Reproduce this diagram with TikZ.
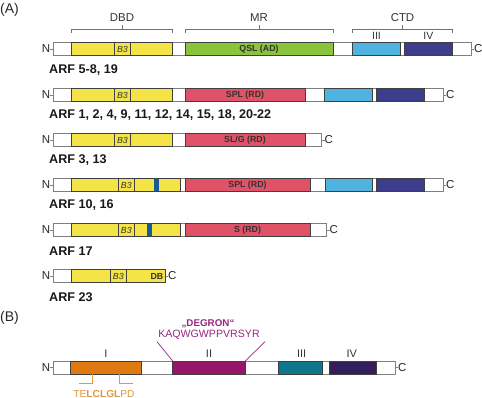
\documentclass[tikz,border=0pt]{standalone}
\usepackage{fontspec}
\setmainfont{Liberation Sans}
\usetikzlibrary{positioning}

\definecolor{dbdyellow}{RGB}{244,228,72}
\definecolor{adgreen}{RGB}{138,196,58}
\definecolor{rdred}{RGB}{224,82,104}
\definecolor{ctdlight}{RGB}{80,178,222}
\definecolor{ctddark}{RGB}{62,60,140}
\definecolor{markblue}{RGB}{24,90,150}
\definecolor{domorange}{RGB}{222,122,16}
\definecolor{dompurple}{RGB}{150,22,108}
\definecolor{domteal}{RGB}{14,118,140}
\definecolor{domviolet}{RGB}{50,30,88}
\definecolor{degrontext}{RGB}{150,40,125}
\definecolor{motiftext}{RGB}{228,150,60}

% outer white bar with N- and -C ends
\newcommand{\arfbar}[3]{% name, y centre, x end
  \draw[bar] (53,#2-6.7) rectangle (#3,#2+6.7);
  \node[term,anchor=east] (#1n) at (50.3,#2) {N};
  \node[term,anchor=west] (#1c) at (#3+2.8,#2) {C};
  \draw[bar] (#1n.east) -- (53,#2);
  \draw[bar] (#3,#2) -- (#1c.west);
}
% one coloured domain
\newcommand{\dom}[4]{% colour, x start, x end, y centre
  \draw[domline,fill=#1] (#2,#4-6.7) rectangle (#3,#4+6.7);
}

\begin{document}
\begin{tikzpicture}[x=1pt,y=-1pt,
    bar/.style={draw=black!50,fill=white,line width=0.8pt},
    domline/.style={draw=black!75,line width=0.65pt},
    brace/.style={draw=black!55,line width=0.8pt},
    term/.style={inner sep=0pt,font=\fontsize{11.5}{13}\selectfont,text=black!85},
    panel/.style={inner sep=0pt,anchor=base west,font=\fontsize{14}{16}\selectfont,text=black!85},
    arfname/.style={inner sep=0pt,anchor=base west,font=\fontsize{12.6}{14}\selectfont\bfseries,text=black!90},
    headtext/.style={inner sep=0pt,anchor=base,font=\fontsize{11.4}{13}\selectfont,text=black!80},
    subtext/.style={inner sep=0pt,anchor=base,font=\fontsize{10.5}{12}\selectfont,text=black!80},
    domtext/.style={inner sep=0pt,font=\fontsize{8.8}{10}\selectfont\bfseries,text=black!80},
    btext/.style={inner sep=0pt,font=\fontsize{8.8}{10}\selectfont\itshape,text=black!80}]
  \useasboundingbox (0,0) rectangle (482,398);

  % panel A
  \node[panel] (pa) at (0,13.5) {(A)};

  % brackets over the first bar
  \draw[brace] (71.5,33) -- (71.5,29.3) -- (172.5,29.3) -- (172.5,33);
  \draw[brace] (122,29.3) -- (122,25);
  \node[headtext] (dbd) at (122,21.7) {DBD};
  \draw[brace] (185,33) -- (185,29.3) -- (333.3,29.3) -- (333.3,33);
  \draw[brace] (259,29.3) -- (259,25);
  \node[headtext] (mr) at (259,21.7) {MR};
  \draw[brace] (352.7,33) -- (352.7,29.3) -- (452.3,29.3) -- (452.3,33);
  \draw[brace] (402.5,29.3) -- (402.5,25);
  \node[headtext] (ctd) at (402.5,21.7) {CTD};
  \node[subtext] (ctdiii) at (376.5,39.3) {III};
  \node[subtext] (ctdiv) at (428.3,39.3) {IV};

  % ARF 5-8, 19
  \arfbar{ra}{49}{471}
  \dom{dbdyellow}{71.5}{172.5}{49}
  \draw[domline] (114.5,42.3) rectangle (130.5,55.7);
  \node[btext] (rab) at (122.5,49) {B3};
  \dom{adgreen}{185}{333.3}{49}
  \node[domtext] (rad) at (259,49) {QSL (AD)};
  \dom{ctdlight}{352.7}{400.7}{49}
  \dom{ctddark}{404}{452.3}{49}
  \node[arfname] (ralab) at (49,74) {ARF 5-8, 19};

  % ARF 1, 2, 4, ...
  \arfbar{rb}{95}{443}
  \dom{dbdyellow}{71.5}{172.5}{95}
  \draw[domline] (114.5,88.3) rectangle (130.5,101.7);
  \node[btext] (rbb) at (122.5,95) {B3};
  \dom{rdred}{185}{305.3}{95}
  \node[domtext] (rbd) at (245,95) {SPL (RD)};
  \dom{ctdlight}{324.7}{372.7}{95}
  \dom{ctddark}{376.3}{424}{95}
  \node[arfname] (rblab) at (49,119) {ARF 1, 2, 4, 9, 11, 12, 14, 15, 18, 20-22};

  % ARF 3, 13
  \arfbar{rc}{140}{321.7}
  \dom{dbdyellow}{71.5}{172.5}{140}
  \draw[domline] (114.5,133.3) rectangle (130.5,146.7);
  \node[btext] (rcb) at (122.5,140) {B3};
  \dom{rdred}{185}{305.3}{140}
  \node[domtext] (rcd) at (245,140) {SL/G (RD)};
  \node[arfname] (rclab) at (49,164) {ARF 3, 13};

  % ARF 10, 16
  \arfbar{rd}{185}{443}
  \dom{dbdyellow}{71.5}{180}{185}
  \draw[domline] (118.3,178.3) rectangle (134.3,191.7);
  \node[btext] (rdb) at (126.3,185) {B3};
  \fill[markblue] (154,178.6) rectangle (159,191.4);
  \dom{rdred}{185}{310}{185}
  \node[domtext] (rdd) at (247.5,185) {SPL (RD)};
  \dom{ctdlight}{325}{372}{185}
  \dom{ctddark}{376}{424}{185}
  \node[arfname] (rdlab) at (49,209) {ARF 10, 16};

  % ARF 17
  \arfbar{re}{230}{326.7}
  \dom{dbdyellow}{71.5}{180}{230}
  \draw[domline] (118.3,223.3) rectangle (134.3,236.7);
  \node[btext] (reb) at (126.3,230) {B3};
  \fill[markblue] (146.7,223.6) rectangle (151.7,236.4);
  \dom{rdred}{185}{310}{230}
  \node[domtext] (red) at (247.5,230) {S (RD)};
  \node[arfname] (relab) at (49,255.5) {ARF 17};

  % ARF 23
  \arfbar{rf}{276}{165}
  \dom{dbdyellow}{71}{165}{276}
  \draw[domline] (110.7,269.3) rectangle (126,282.7);
  \node[btext] (rfb) at (118.3,276) {B3};
  \node[domtext,anchor=east] (rfd) at (163.5,276) {DB};
  \node[arfname] (rflab) at (49,301) {ARF 23};

  % panel B
  \node[panel] (pb) at (0,321) {(B)};
  \arfbar{rg}{367.7}{395}
  \dom{domorange}{70.7}{141.7}{367.7}
  \dom{dompurple}{172.7}{245.3}{367.7}
  \dom{domteal}{278.7}{322}{367.7}
  \dom{domviolet}{329.3}{376.3}{367.7}
  \node[headtext,font=\fontsize{11}{13}\selectfont] (gi) at (106,357.5) {I};
  \node[headtext,font=\fontsize{11}{13}\selectfont] (gii) at (209,357.5) {II};
  \node[headtext,font=\fontsize{11}{13}\selectfont] (giii) at (301.7,357.5) {III};
  \node[headtext,font=\fontsize{11}{13}\selectfont] (giv) at (351.7,357.5) {IV};

  % degron
  \node[inner sep=0pt,anchor=base,text=degrontext,font=\fontsize{9.8}{11}\selectfont\bfseries] (degron) at (208,326) {„DEGRON“};
  \node[inner sep=0pt,anchor=base,text=degrontext,font=\fontsize{10.6}{12}\selectfont] (degseq) at (209,337.5) {KAQWGWPPVRSYR};
  \coordinate (degl) at (157,341.7);
  \coordinate (degr) at (265,341.7);
  \draw[draw=degrontext,line width=0.7pt] (degl) -- (172.7,361);
  \draw[draw=degrontext,line width=0.7pt] (degr) -- (245.3,361);

  % motif under domain I
  \draw[draw=motiftext,line width=0.8pt] (92.3,374.4) -- (92.3,383.3) -- (78.5,383.3);
  \draw[draw=motiftext,line width=0.8pt] (119.3,374.4) -- (119.3,383.3) -- (133.3,383.3);
  \node[inner sep=0pt,anchor=base,text=motiftext,font=\fontsize{10.2}{12}\selectfont] (motif) at (104,397.3) {TE\textbf{LCLGL}PD};
\end{tikzpicture}
\end{document}
